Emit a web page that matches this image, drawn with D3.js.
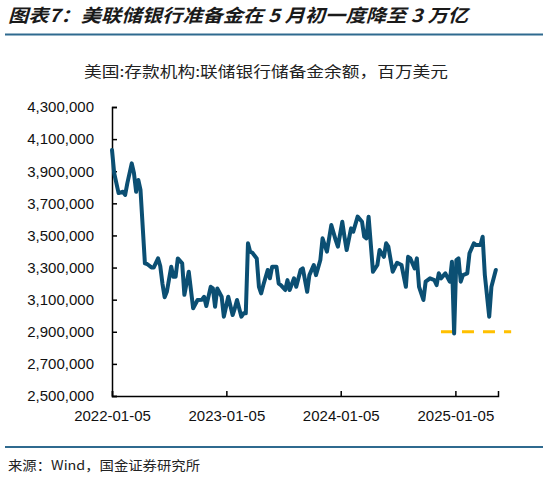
<!DOCTYPE html>
<html><head><meta charset="utf-8">
<script src="https://cdn.jsdelivr.net/npm/d3@7"></script>
<style>
html,body{margin:0;padding:0;background:#fff;}
svg{display:block;}
</style></head>
<body>
<svg id="chart" width="547" height="478"></svg>
<script>
const dates = ["2022-01-05","2022-01-12","2022-01-19","2022-01-26","2022-02-09","2022-02-16","2022-02-23","2022-03-09","2022-03-16","2022-03-23","2022-03-30","2022-04-06","2022-04-20","2022-04-27","2022-05-11","2022-05-18","2022-06-01","2022-06-08","2022-06-15","2022-06-22","2022-06-29","2022-07-13","2022-07-20","2022-07-27","2022-08-03","2022-08-17","2022-08-24","2022-09-07","2022-09-21","2022-10-05","2022-10-19","2022-10-26","2022-11-02","2022-11-16","2022-11-23","2022-11-30","2022-12-07","2022-12-21","2022-12-28","2023-01-04","2023-01-11","2023-01-25","2023-02-01","2023-02-08","2023-02-22","2023-03-01","2023-03-08","2023-03-15","2023-03-22","2023-03-29","2023-04-12","2023-04-19","2023-04-26","2023-05-03","2023-05-17","2023-05-24","2023-05-31","2023-06-14","2023-06-21","2023-06-28","2023-07-12","2023-07-19","2023-07-26","2023-08-09","2023-08-16","2023-08-30","2023-09-06","2023-09-20","2023-09-27","2023-10-11","2023-10-18","2023-11-01","2023-11-08","2023-11-15","2023-11-22","2023-12-06","2023-12-20","2023-12-27","2024-01-10","2024-01-17","2024-01-24","2024-02-07","2024-02-14","2024-02-28","2024-03-13","2024-03-20","2024-03-27","2024-04-03","2024-04-17","2024-05-01","2024-05-08","2024-05-22","2024-05-29","2024-06-05","2024-06-19","2024-07-03","2024-07-17","2024-07-31","2024-08-07","2024-08-14","2024-08-28","2024-09-04","2024-09-11","2024-09-25","2024-10-02","2024-10-16","2024-10-30","2024-11-06","2024-11-13","2024-11-20","2024-12-04","2024-12-18","2024-12-25","2025-01-01","2025-01-08","2025-01-15","2025-01-22","2025-01-29","2025-02-12","2025-02-19","2025-03-05","2025-03-12","2025-03-26","2025-04-02","2025-04-09","2025-04-23","2025-04-30","2025-05-14"];
const reserves = [4032000,3887000,3826000,3764000,3772000,3752000,3826000,3949000,3889000,3772000,3845000,3783000,3326000,3322000,3301000,3300000,3357000,3310000,3200000,3115000,3149000,3305000,3243000,3243000,3357000,3326000,3130000,3274000,3046000,3098000,3100000,3118000,3060000,3180000,3170000,3056000,3170000,3118000,2994000,3056000,3118000,3004000,3046000,3098000,2994000,3015000,3015000,3451000,3399000,3392000,3357000,3180000,3139000,3191000,3285000,3233000,3305000,3305000,3200000,3191000,3160000,3222000,3160000,3233000,3180000,3285000,3295000,3149000,3253000,3316000,3253000,3347000,3482000,3440000,3399000,3565000,3471000,3430000,3585000,3492000,3409000,3544000,3523000,3617000,3585000,3492000,3482000,3617000,3274000,3316000,3409000,3367000,3451000,3430000,3274000,3330000,3316000,3180000,3367000,3357000,3295000,3357000,3180000,3098000,3212000,3233000,3222000,3191000,3264000,3233000,3264000,3212000,3336000,2890000,3347000,3357000,3212000,3253000,3264000,3389000,3451000,3440000,3440000,3492000,3253000,2994000,3180000,3285000];
const yTicks = [2500000,2700000,2900000,3100000,3300000,3500000,3700000,3900000,4100000,4300000];
const xTicks = ["2022-01-05","2023-01-05","2024-01-05","2025-01-05"];
const xDomain = ["2022-01-05","2025-05-21"];
const refLevel = [2900000];
const refSpan = ["2024-11-20","2025-07-02"];
const titleText = "图表7：美联储银行准备金在 5 月初一度降至 3 万亿";
const subtitleText = "美国:存款机构:联储银行储备金余额，百万美元";
const sourceText = "来源：Wind，国金证券研究所";

const parse = d3.timeParse("%Y-%m-%d");
const svg = d3.select("#chart");
const L = 112, R = 498, T = 107, B = 396;

const x = d3.scaleTime().domain(xDomain.map(parse)).range([L, R]);
const y = d3.scaleLinear().domain([2500000, 4300000]).range([B, T]);

// title
svg.append("text").attr("x", 8).attr("y", 22)
  .attr("font-family", "'Noto Sans CJK SC', sans-serif")
  .attr("font-size", 18).attr("font-weight", "bold").attr("font-style", "italic")
  .attr("fill", "#1a1a1a")
  .attr("textLength", 460).attr("lengthAdjust", "spacingAndGlyphs")
  .text(titleText);
svg.append("line").attr("x1", 5).attr("x2", 543).attr("y1", 34.5).attr("y2", 34.5)
  .attr("stroke", "#2f6a8f").attr("stroke-width", 2);

// subtitle
svg.append("text").attr("x", 266).attr("y", 77).attr("text-anchor", "middle")
  .attr("font-family", "'Noto Sans CJK SC', sans-serif")
  .attr("font-size", 15).attr("fill", "#222")
  .attr("textLength", 364).attr("lengthAdjust", "spacingAndGlyphs")
  .text(subtitleText);

// axes
const yAxis = d3.axisLeft(y).tickValues(yTicks).tickSize(-5).tickPadding(18)
  .tickFormat(d3.format(","));
const gy = svg.append("g").attr("transform", `translate(${L},0)`).call(yAxis);
gy.select(".domain").attr("stroke", "#000").attr("stroke-width", 1.5);
gy.selectAll(".tick line").attr("stroke", "#000").attr("stroke-width", 1.5);
gy.selectAll(".tick text").attr("font-family", "'Liberation Sans', Arial, sans-serif")
  .attr("font-size", 15).attr("fill", "#111");

const xAxis = d3.axisBottom(x).tickValues(xTicks.map(parse)).tickSize(-5).tickPadding(14)
  .tickFormat(d3.timeFormat("%Y-%m-%d"));
const gx = svg.append("g").attr("transform", `translate(0,${B})`).call(xAxis);
gx.select(".domain").attr("stroke", "#000").attr("stroke-width", 1.5);
gx.selectAll(".tick line").attr("stroke", "#000").attr("stroke-width", 1.5);
gx.selectAll(".tick text").attr("font-family", "'Liberation Sans', Arial, sans-serif")
  .attr("font-size", 15).attr("fill", "#111");

// reference dashed line
svg.append("line")
  .attr("x1", x(parse(refSpan[0]))).attr("x2", x(parse(refSpan[1])))
  .attr("y1", y(refLevel[0])).attr("y2", y(refLevel[0]))
  .attr("stroke", "#ffc000").attr("stroke-width", 3).attr("stroke-dasharray", "12,9");

// data line
const data = dates.map((d, i) => ({date: parse(d), v: reserves[i]}));
svg.append("path").datum(data)
  .attr("fill", "none").attr("stroke", "#0b4f73").attr("stroke-width", 4)
  .attr("stroke-linejoin", "round").attr("stroke-linecap", "round")
  .attr("d", d3.line().x(d => x(d.date)).y(d => y(d.v)));

// footer
svg.append("line").attr("x1", 5).attr("x2", 543).attr("y1", 447).attr("y2", 447)
  .attr("stroke", "#2f6a8f").attr("stroke-width", 2);
svg.append("text").attr("x", 8).attr("y", 470)
  .attr("font-family", "'Noto Sans CJK SC', sans-serif")
  .attr("font-size", 13).attr("fill", "#222")
  .attr("textLength", 192).attr("lengthAdjust", "spacingAndGlyphs")
  .text(sourceText);
</script>
</body></html>
